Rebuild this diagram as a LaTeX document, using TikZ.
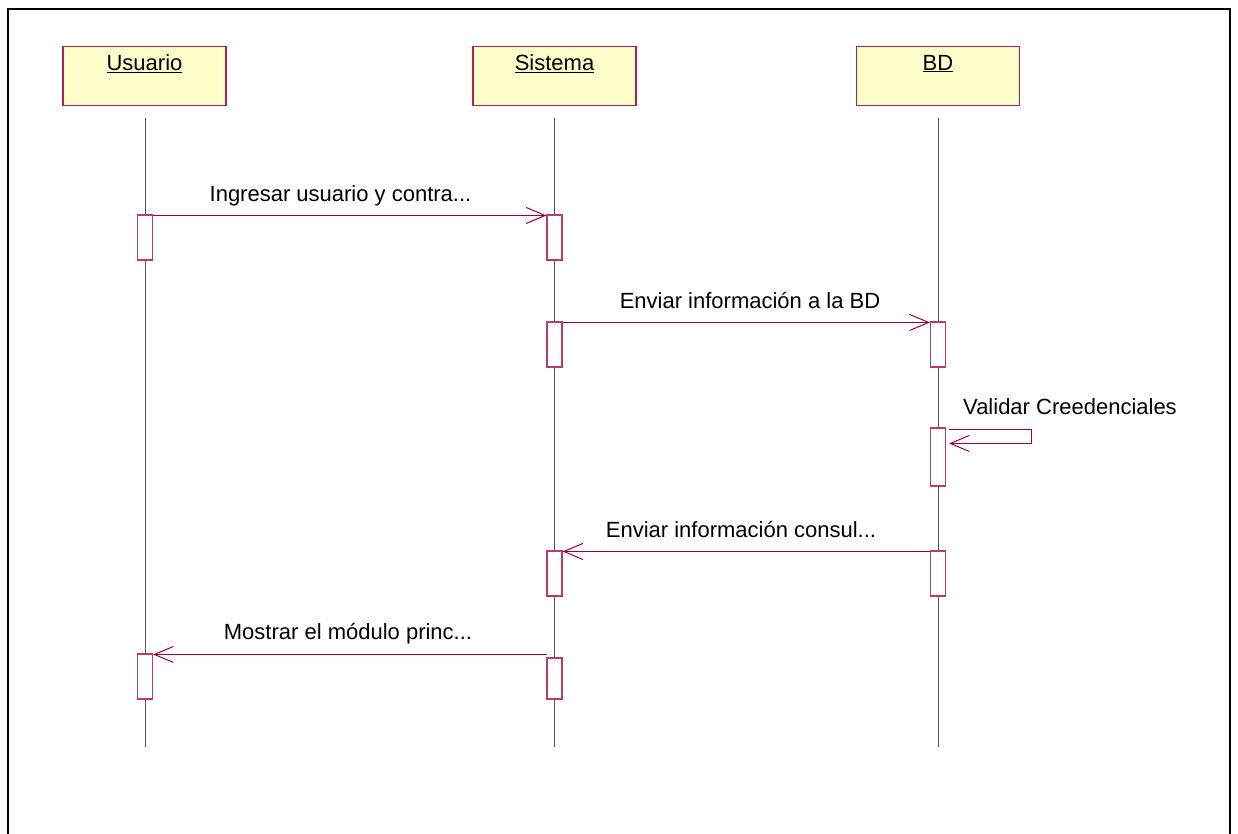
\documentclass[tikz,border=0pt]{standalone}
\usepackage{fontspec}
\setmainfont{Liberation Sans}
\usetikzlibrary{arrows.meta}

\definecolor{msgred}{RGB}{160,0,60}
\definecolor{headred}{RGB}{175,35,75}
\definecolor{actred}{RGB}{190,60,100}
\definecolor{headfill}{RGB}{255,255,204}
\definecolor{lifegray}{RGB}{85,85,85}

\begin{document}
\begin{tikzpicture}[x=1pt,y=-1pt,
  font=\fontsize{22}{26}\selectfont,
  head/.style={draw=headred, fill=headfill, line width=1.2pt, rectangle,
    minimum width=163pt, inner sep=0pt, text height=24pt, text depth=35.5pt},
  life/.style={draw=lifegray, line width=0.8pt},
  act/.style={draw=actred, fill=white, line width=1.1pt, rectangle,
    minimum width=15pt, inner sep=0pt},
  msg/.style={draw=msgred, line width=1pt,
    -{Straight Barb[length=19pt,width=16pt,line width=1pt]}},
  lbl/.style={anchor=base, inner sep=0pt}]

\useasboundingbox (0,0) rectangle (1238,833);
\clip (0,0) rectangle (1238,833);

% outer frame (its lower edge lies below the page)
\draw[line width=2pt] (7.5,8.5) rectangle (1229.5,870);

% object headers
\node[head] (usr) at (144.5,76) {\underline{Usuario}};
\node[head] (sys) at (554.5,76) {\underline{Sistema}};
\node[head] (bd)  at (938,76)   {\underline{BD}};

% lifelines
\coordinate (usrTop) at (145,118);  \coordinate (usrBot) at (145,747);
\coordinate (sysTop) at (554,118);  \coordinate (sysBot) at (554,747);
\coordinate (bdTop)  at (938.5,118);\coordinate (bdBot)  at (938.5,747);
\draw[life] (usrTop) -- (usrBot);
\draw[life] (sysTop) -- (sysBot);
\draw[life] (bdTop) -- (bdBot);

% activation bars
\node[act, minimum height=45pt] (usr1) at (145,237.5) {};
\node[act, minimum height=45pt] (sys1) at (554.5,237.5) {};
\node[act, minimum height=45pt] (sys2) at (554.5,344.5) {};
\node[act, minimum height=45pt] (bd2)  at (938,344.5) {};
\node[act, minimum height=58pt] (bd3)  at (938,457) {};
\node[act, minimum height=45pt] (bd4)  at (938,573.5) {};
\node[act, minimum height=45pt] (sys4) at (554.5,573.5) {};
\node[act, minimum height=41pt] (sys5) at (554.5,678.5) {};
\node[act, minimum height=45pt] (usr5) at (145,676.5) {};

% messages
\draw[msg] ([yshift=-1pt]usr1.north east) -- ([yshift=-1pt]sys1.north west);
\node[lbl] (m1) at (340.5,201) {Ingresar usuario y contra...};

\draw[msg] ([yshift=-1pt]sys2.north east) -- ([yshift=-1pt]bd2.north west);
\node[lbl] (m2) at (750,308) {Enviar información a la BD};

\coordinate (selfA) at ([xshift=3pt,yshift=-2pt]bd3.north east);
\coordinate (selfB) at ([xshift=3pt,yshift=-16pt]bd3.north east);
\draw[msg] (selfA) -- ++(82,0) -- ++(0,14) -- (selfB);
\node[lbl, anchor=base west] (m3) at (963,414) {Validar Creedenciales};

\draw[msg] ([yshift=-1pt]bd4.north west) -- ([yshift=-1pt]sys4.north east);
\node[lbl] (m4) at (741,537) {Enviar información consul...};

\coordinate (m5end) at ([yshift=-1pt]usr5.north east);
\draw[msg] ([xshift=1pt]sys5.north west |- m5end) -- (m5end);
\node[lbl] (m5) at (348,639) {Mostrar el módulo princ...};

\end{tikzpicture}
\end{document}
